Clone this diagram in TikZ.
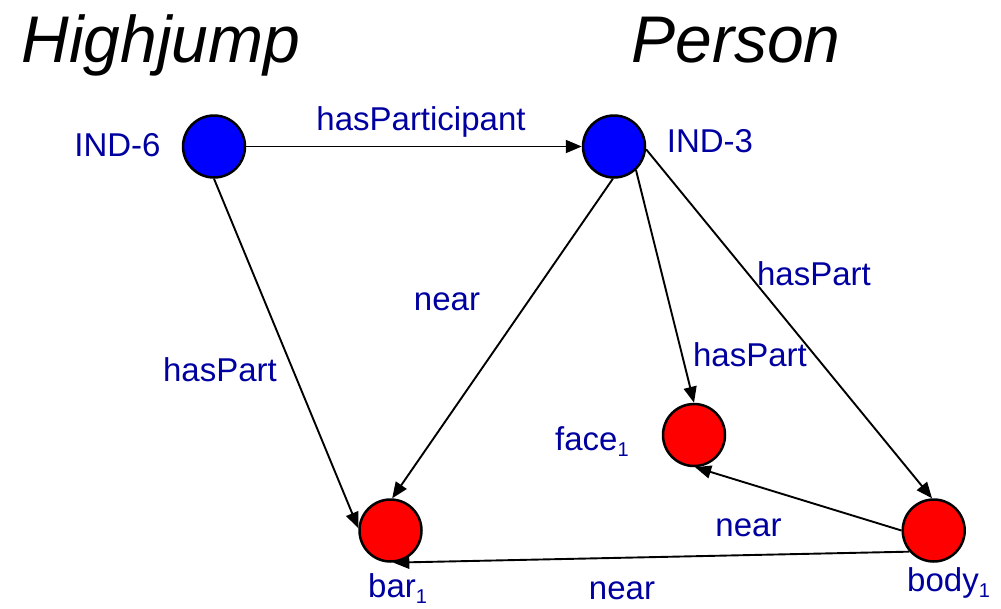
\documentclass[tikz,border=0pt]{standalone}
\usepackage{fontspec}
\setmainfont{Liberation Sans}
\usetikzlibrary{arrows.meta}
\definecolor{lbl}{RGB}{0,0,160}
\definecolor{nblue}{RGB}{0,0,255}
\definecolor{nred}{RGB}{255,0,0}
\newcommand{\subone}{\raisebox{-6pt}{\fontsize{20}{20}\selectfont 1}}
\tikzset{
  vtx/.style={circle, draw=black, line width=2.5pt, minimum size=62pt, inner sep=0pt},
  blu/.style={vtx, fill=nblue},
  rd/.style={vtx, fill=nred},
  lab/.style={text=lbl, font=\fontsize{33}{38}\selectfont, inner sep=0pt, anchor=base},
  ttl/.style={font=\fontsize{66}{72}\selectfont\itshape, inner sep=0pt, anchor=base},
  edge/.style={line width=1.9pt, -{Triangle[length=16pt,width=13pt]}}
}
\begin{document}
\begin{tikzpicture}[x=1pt,y=-1pt]
\useasboundingbox (0,0) rectangle (1001,608);
\node[ttl] (t1) at (161,62) {Highjump};
\node[ttl] (t2) at (736,62) {Person};

\node[blu] (ind6) at (214,146.5) {};
\node[blu] (ind3) at (614,146.5) {};
\node[rd] (bar) at (390.5,530.5) {};
\node[rd] (face) at (694,435) {};
\node[rd] (body) at (933.7,530.5) {};

\node[lab] (l6) at (117.5,156.7) {IND-6};
\node[lab] (l3) at (710,152.7) {IND-3};
\node[lab, anchor=base west] (lf) at (555,450) {face\subone};
\node[lab, anchor=base west] (lb) at (368,597) {bar\subone};
\node[lab, anchor=base west] (lbo) at (907,591) {body\subone};

\draw[edge] (ind6) -- (ind3);
\draw[edge] (ind6.-90) -- (bar.176);
\draw[edge] (ind3.-92) -- (bar.87);
\draw[edge] (ind3.-47) -- (face.90);
\draw[edge] (ind3.-5) -- (body.93);
\draw[edge] (body.180) -- (face.-88);
\draw[edge] (body.221) -- (bar.-85);

\node[lab] (e1) at (421,130) {hasParticipant};
\node[lab] (e2) at (447,310.7) {near};
\node[lab] (e3) at (220,381) {hasPart};
\node[lab] (e4) at (750,366.7) {hasPart};
\node[lab] (e5) at (814,285) {hasPart};
\node[lab] (e6) at (748.5,536.7) {near};
\node[lab] (e7) at (622,599) {near};
\end{tikzpicture}
\end{document}
